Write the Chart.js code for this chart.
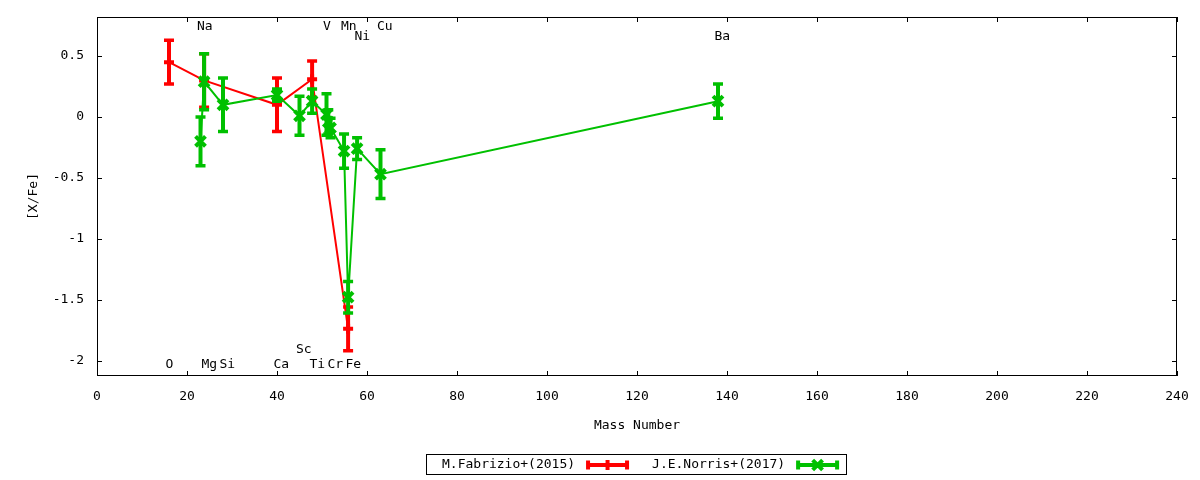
<!DOCTYPE html>
<html>
<head>
<meta charset="utf-8">
<title>[X/Fe] vs Mass Number</title>
<script src="https://cdn.jsdelivr.net/npm/chart.js@4.4.0/dist/chart.umd.min.js"></script>
<style>
    html, body { margin: 0; padding: 0; background: #ffffff; }
    #wrap { width: 1200px; height: 480px; position: relative; }
</style>
</head>
<body>
<div id="wrap"><canvas id="abundance_chart"></canvas></div>
<script>
"use strict";

// M.Fabrizio+(2015)
var fabMass = [16, 23.8, 40, 47.8, 55.8];
var fabXFe  = [0.45, 0.30, 0.10, 0.31, -1.74];
var fabErr  = [0.18, 0.22, 0.22, 0.15, 0.18];

// J.E.Norris+(2017)
var norMass = [23, 23.8, 28, 40, 45, 47.8, 51, 51.4, 51.9, 54.9, 55.8, 57.8, 63, 138];
var norXFe  = [-0.20, 0.29, 0.10, 0.18, 0.01, 0.13, 0.02, -0.04, -0.09, -0.28, -1.48, -0.26, -0.47, 0.13];
var norErr  = [0.20, 0.23, 0.22, 0.05, 0.16, 0.10, 0.17, 0.10, 0.08, 0.14, 0.13, 0.09, 0.20, 0.14];

// element labels (mass number, [X/Fe] height of the label)
var elemNames  = ["O", "Na", "Mg", "Si", "Ca", "Sc", "Ti", "V", "Cr", "Mn", "Fe", "Ni", "Cu", "Ba"];
var elemMass   = [16, 23, 24, 28, 40, 45, 48, 51, 52, 55, 56, 58, 63, 138];
var elemLabelY = [-2.03, 0.74, -2.03, -2.03, -2.03, -1.91, -2.03, 0.74, -2.03, 0.74, -2.03, 0.657, 0.74, 0.657];

// axes
var xTicks = [0, 20, 40, 60, 80, 100, 120, 140, 160, 180, 200, 220, 240];
var yTicks = [-2, -1.5, -1, -0.5, 0, 0.5];
var yMin = -2.127, yMax = 0.821;

var RED = '#ff0000';
var GREEN = '#00c000';
var FONT = '"DejaVu Sans Mono", "Liberation Mono", monospace';

function toPoints(xs, ys) {
    return xs.map(function (x, i) { return { x: x, y: ys[i] }; });
}

// gnuplot-like marker drawn by hand (legend samples)
function drawMarker(ctx, style, x, y, r) {
    ctx.beginPath();
    if (style === 'cross') {
        ctx.moveTo(x - r, y); ctx.lineTo(x + r, y);
        ctx.moveTo(x, y - r); ctx.lineTo(x, y + r);
    } else {
        var d = r * Math.SQRT1_2;
        ctx.moveTo(x - d, y - d); ctx.lineTo(x + d, y + d);
        ctx.moveTo(x - d, y + d); ctx.lineTo(x + d, y - d);
    }
    ctx.stroke();
}

var gnuplotDecor = {
    id: 'gnuplotDecor',
    // error bars go under each series' line
    beforeDatasetDraw: function (chart, args) {
        var ds = chart.data.datasets[args.index];
        var xs = chart.scales.x, ys = chart.scales.y;
        var ctx = chart.ctx;
        ctx.save();
        ctx.strokeStyle = ds.borderColor;
        ctx.lineCap = 'butt';
        ds.data.forEach(function (p, i) {
            var px = xs.getPixelForValue(p.x);
            var top = ys.getPixelForValue(p.y + ds.errors[i]);
            var bot = ys.getPixelForValue(p.y - ds.errors[i]);
            ctx.lineWidth = 4;
            ctx.beginPath();
            ctx.moveTo(px, top); ctx.lineTo(px, bot);
            ctx.stroke();
            ctx.lineWidth = 3.5;
            ctx.beginPath();
            ctx.moveTo(px - 5, top); ctx.lineTo(px + 5, top);
            ctx.moveTo(px - 5, bot); ctx.lineTo(px + 5, bot);
            ctx.stroke();
        });
        ctx.restore();
    },
    afterDraw: function (chart) {
        var ctx = chart.ctx;
        var a = chart.chartArea;
        var xs = chart.scales.x, ys = chart.scales.y;
        var tl = 5;

        ctx.save();
        // frame
        ctx.strokeStyle = '#000';
        ctx.lineWidth = 1;
        ctx.strokeRect(Math.round(a.left) + 0.5, Math.round(a.top) + 0.5,
            Math.round(a.right - a.left) - 1, Math.round(a.bottom - a.top) - 1);

        // inward ticks, mirrored on all sides
        ctx.beginPath();
        xTicks.forEach(function (v) {
            var px = Math.round(xs.getPixelForValue(v)) + 0.5;
            ctx.moveTo(px, a.bottom); ctx.lineTo(px, a.bottom - tl);
            ctx.moveTo(px, a.top); ctx.lineTo(px, a.top + tl);
        });
        yTicks.forEach(function (v) {
            var py = Math.round(ys.getPixelForValue(v)) + 0.5;
            ctx.moveTo(a.left, py); ctx.lineTo(a.left + tl, py);
            ctx.moveTo(a.right, py); ctx.lineTo(a.right - tl, py);
        });
        ctx.stroke();

        // element names
        ctx.fillStyle = '#000';
        ctx.font = '13px ' + FONT;
        ctx.textAlign = 'left';
        ctx.textBaseline = 'middle';
        elemNames.forEach(function (name, i) {
            ctx.fillText(name, xs.getPixelForValue(elemMass[i]) - 3.5, ys.getPixelForValue(elemLabelY[i]));
        });

        // boxed key under the axis title
        var sets = chart.data.datasets;
        var cx = (a.left + a.right) / 2 - 1;
        var ky = 465;
        var sampleW = 43, gapTS = 11, gapEntry = 23, padL = 16, padR = 7;
        var widths = sets.map(function (d) { return ctx.measureText(d.label).width; });
        var total = padL + padR;
        widths.forEach(function (w, i) { total += w + gapTS + sampleW + (i ? gapEntry : 0); });
        var bx = Math.round(cx - total / 2);
        ctx.strokeStyle = '#000';
        ctx.lineWidth = 1;
        ctx.strokeRect(bx + 0.5, ky - 10.5, Math.round(total), 20);
        var x = bx + padL;
        sets.forEach(function (d, i) {
            if (i) x += gapEntry;
            ctx.fillStyle = '#000';
            ctx.fillText(d.label, x, ky);
            x += widths[i] + gapTS;
            ctx.strokeStyle = d.borderColor;
            ctx.lineWidth = 4;
            ctx.beginPath();
            ctx.moveTo(x, ky); ctx.lineTo(x + sampleW, ky);
            ctx.moveTo(x + 2, ky - 4.5); ctx.lineTo(x + 2, ky + 4.5);
            ctx.moveTo(x + sampleW - 2, ky - 4.5); ctx.lineTo(x + sampleW - 2, ky + 4.5);
            ctx.stroke();
            ctx.lineWidth = d.pointBorderWidth;
            drawMarker(ctx, d.pointStyle, x + sampleW / 2, ky, d.pointRadius);
            x += sampleW;
        });
        ctx.restore();
    }
};

Chart.defaults.font.family = FONT;
Chart.defaults.font.size = 13;
Chart.defaults.color = '#000';

var config = {
    type: 'line',
    data: {
        datasets: [{
            label: 'M.Fabrizio+(2015)',
            data: toPoints(fabMass, fabXFe),
            errors: fabErr,
            borderColor: RED,
            backgroundColor: RED,
            borderWidth: 2,
            pointStyle: 'cross',
            pointRadius: 5,
            pointBorderWidth: 4,
            pointBorderColor: RED,
            tension: 0,
            order: 1
        }, {
            label: 'J.E.Norris+(2017)',
            data: toPoints(norMass, norXFe),
            errors: norErr,
            borderColor: GREEN,
            backgroundColor: GREEN,
            borderWidth: 2,
            pointStyle: 'crossRot',
            pointRadius: 7,
            pointBorderWidth: 4,
            pointBorderColor: GREEN,
            tension: 0,
            order: 0
        }]
    },
    options: {
        responsive: true,
        maintainAspectRatio: false,
        animation: false,
        layout: {
            padding: { left: 0, top: 17, right: 23, bottom: 0 }
        },
        scales: {
            x: {
                type: 'linear',
                min: 0,
                max: 240,
                // the tick length only spaces the labels; ticks themselves are drawn inward by the plugin
                grid: { display: false, drawTicks: true, tickLength: 13 },
                border: { display: false },
                afterBuildTicks: function (scale) {
                    scale.ticks = xTicks.map(function (v) { return { value: v }; });
                },
                afterFit: function (scale) { scale.height = 104; },
                ticks: {
                    padding: 0,
                    maxRotation: 0,
                    callback: function (value) { return String(value); }
                },
                title: {
                    display: true,
                    text: 'Mass Number',
                    padding: { top: 0, bottom: 47 }
                }
            },
            y: {
                type: 'linear',
                min: yMin,
                max: yMax,
                grid: { display: false, drawTicks: true, tickLength: 13 },
                border: { display: false },
                afterBuildTicks: function (scale) {
                    scale.ticks = yTicks.map(function (v) { return { value: v }; });
                },
                afterFit: function (scale) { scale.width = 97; },
                ticks: {
                    padding: 0,
                    callback: function (value) { return String(value); }
                },
                title: {
                    display: true,
                    text: '[X/Fe]',
                    padding: { top: 26, bottom: 0 }
                }
            }
        },
        plugins: {
            legend: { display: false },
            tooltip: { enabled: false }
        }
    },
    plugins: [gnuplotDecor]
};

var ctx = document.getElementById('abundance_chart').getContext('2d');
var abundanceChart = new Chart(ctx, config);
</script>
</body>
</html>
